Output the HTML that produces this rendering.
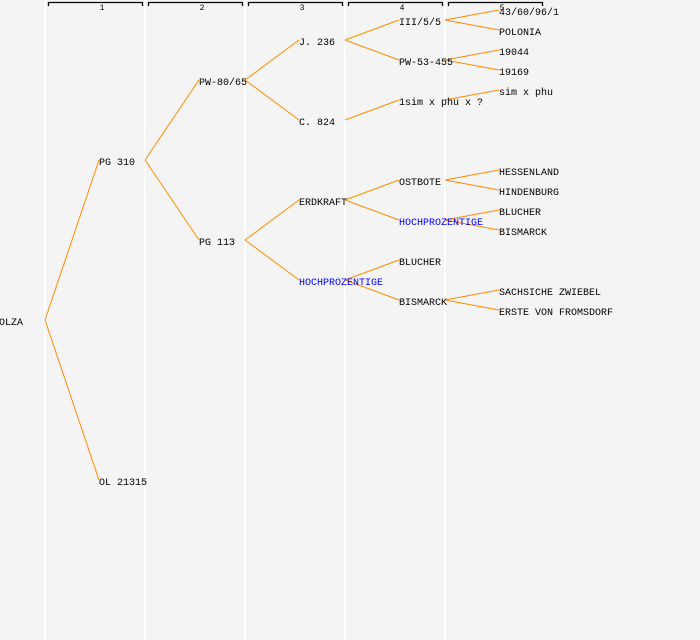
<!DOCTYPE html>
<html><head><style>
html,body{margin:0;padding:0;background:#f4f4f4;}
svg{display:block;}
text{font-family:"Liberation Mono","DejaVu Sans Mono",monospace;font-size:10px;fill:#000;}
.h{font-size:8px;text-anchor:middle;}
.b{fill:#0000ff;}
line.c{stroke:#ff8c00;stroke-width:1;}
</style></head><body>
<svg width="700" height="640" xmlns="http://www.w3.org/2000/svg">
<rect width="700" height="640" fill="#f4f4f4"/>
<g stroke="#ffffff" stroke-width="2">
<line x1="45" y1="0" x2="45" y2="640"/><line x1="145" y1="0" x2="145" y2="640"/>
<line x1="245" y1="0" x2="245" y2="640"/><line x1="345" y1="0" x2="345" y2="640"/>
<line x1="445" y1="0" x2="445" y2="640"/>
</g>
<g stroke="#000" stroke-width="1.3" fill="none">
<path d="M48.5 6V2.5H142.5V6"/><path d="M148.5 6V2.5H242.5V6"/><path d="M248.5 6V2.5H342.5V6"/><path d="M348.5 6V2.5H442.5V6"/><path d="M448.5 6V2.5H542.5V6"/>
</g>
<text class="h" x="102" y="10">1</text><text class="h" x="202" y="10">2</text><text class="h" x="302" y="10">3</text><text class="h" x="402" y="10">4</text><text class="h" x="502" y="10">5</text>
<g>
<line class="c" x1="45" y1="320" x2="99" y2="160"/><line class="c" x1="45" y1="320" x2="99" y2="480"/>
<line class="c" x1="145" y1="160" x2="199" y2="80"/><line class="c" x1="145" y1="160" x2="199" y2="240"/>
<line class="c" x1="245" y1="80" x2="299" y2="40"/><line class="c" x1="245" y1="80" x2="299" y2="120"/>
<line class="c" x1="245" y1="240" x2="299" y2="200"/><line class="c" x1="245" y1="240" x2="299" y2="280"/>
<line class="c" x1="345" y1="40" x2="399" y2="20"/><line class="c" x1="345" y1="40" x2="399" y2="60"/>
<line class="c" x1="345" y1="120" x2="399" y2="100"/>
<line class="c" x1="345" y1="200" x2="399" y2="180"/><line class="c" x1="345" y1="200" x2="399" y2="220"/>
<line class="c" x1="345" y1="280" x2="399" y2="260"/><line class="c" x1="345" y1="280" x2="399" y2="300"/>
<line class="c" x1="445" y1="20" x2="499" y2="10"/><line class="c" x1="445" y1="20" x2="499" y2="30"/>
<line class="c" x1="445" y1="60" x2="499" y2="50"/><line class="c" x1="445" y1="60" x2="499" y2="70"/>
<line class="c" x1="445" y1="100" x2="499" y2="90"/>
<line class="c" x1="445" y1="180" x2="499" y2="170"/><line class="c" x1="445" y1="180" x2="499" y2="190"/>
<line class="c" x1="445" y1="220" x2="499" y2="210"/><line class="c" x1="445" y1="220" x2="499" y2="230"/>
<line class="c" x1="445" y1="300" x2="499" y2="290"/><line class="c" x1="445" y1="300" x2="499" y2="310"/>
</g>
<text x="-1" y="325">OLZA</text>
<text x="99" y="165">PG 310</text><text x="99" y="485">OL 21315</text>
<text x="199" y="85">PW-80/65</text><text x="199" y="245">PG 113</text>
<text x="299" y="45">J. 236</text><text x="299" y="125">C. 824</text>
<text x="299" y="205">ERDKRAFT</text><text class="b" x="299" y="285">HOCHPROZENTIGE</text>
<text x="399" y="25">III/5/5</text><text x="399" y="65">PW-53-455</text><text x="399" y="105">1sim x phu x ?</text>
<text x="399" y="185">OSTBOTE</text><text class="b" x="399" y="225">HOCHPROZENTIGE</text>
<text x="399" y="265">BLUCHER</text><text x="399" y="305">BISMARCK</text>
<text x="499" y="15">43/60/96/1</text><text x="499" y="35">POLONIA</text>
<text x="499" y="55">19044</text><text x="499" y="75">19169</text><text x="499" y="95">sim x phu</text>
<text x="499" y="175">HESSENLAND</text><text x="499" y="195">HINDENBURG</text>
<text x="499" y="215">BLUCHER</text><text x="499" y="235">BISMARCK</text>
<text x="499" y="295">SACHSICHE ZWIEBEL</text><text x="499" y="315">ERSTE VON FROMSDORF</text>
</svg>
</body></html>
